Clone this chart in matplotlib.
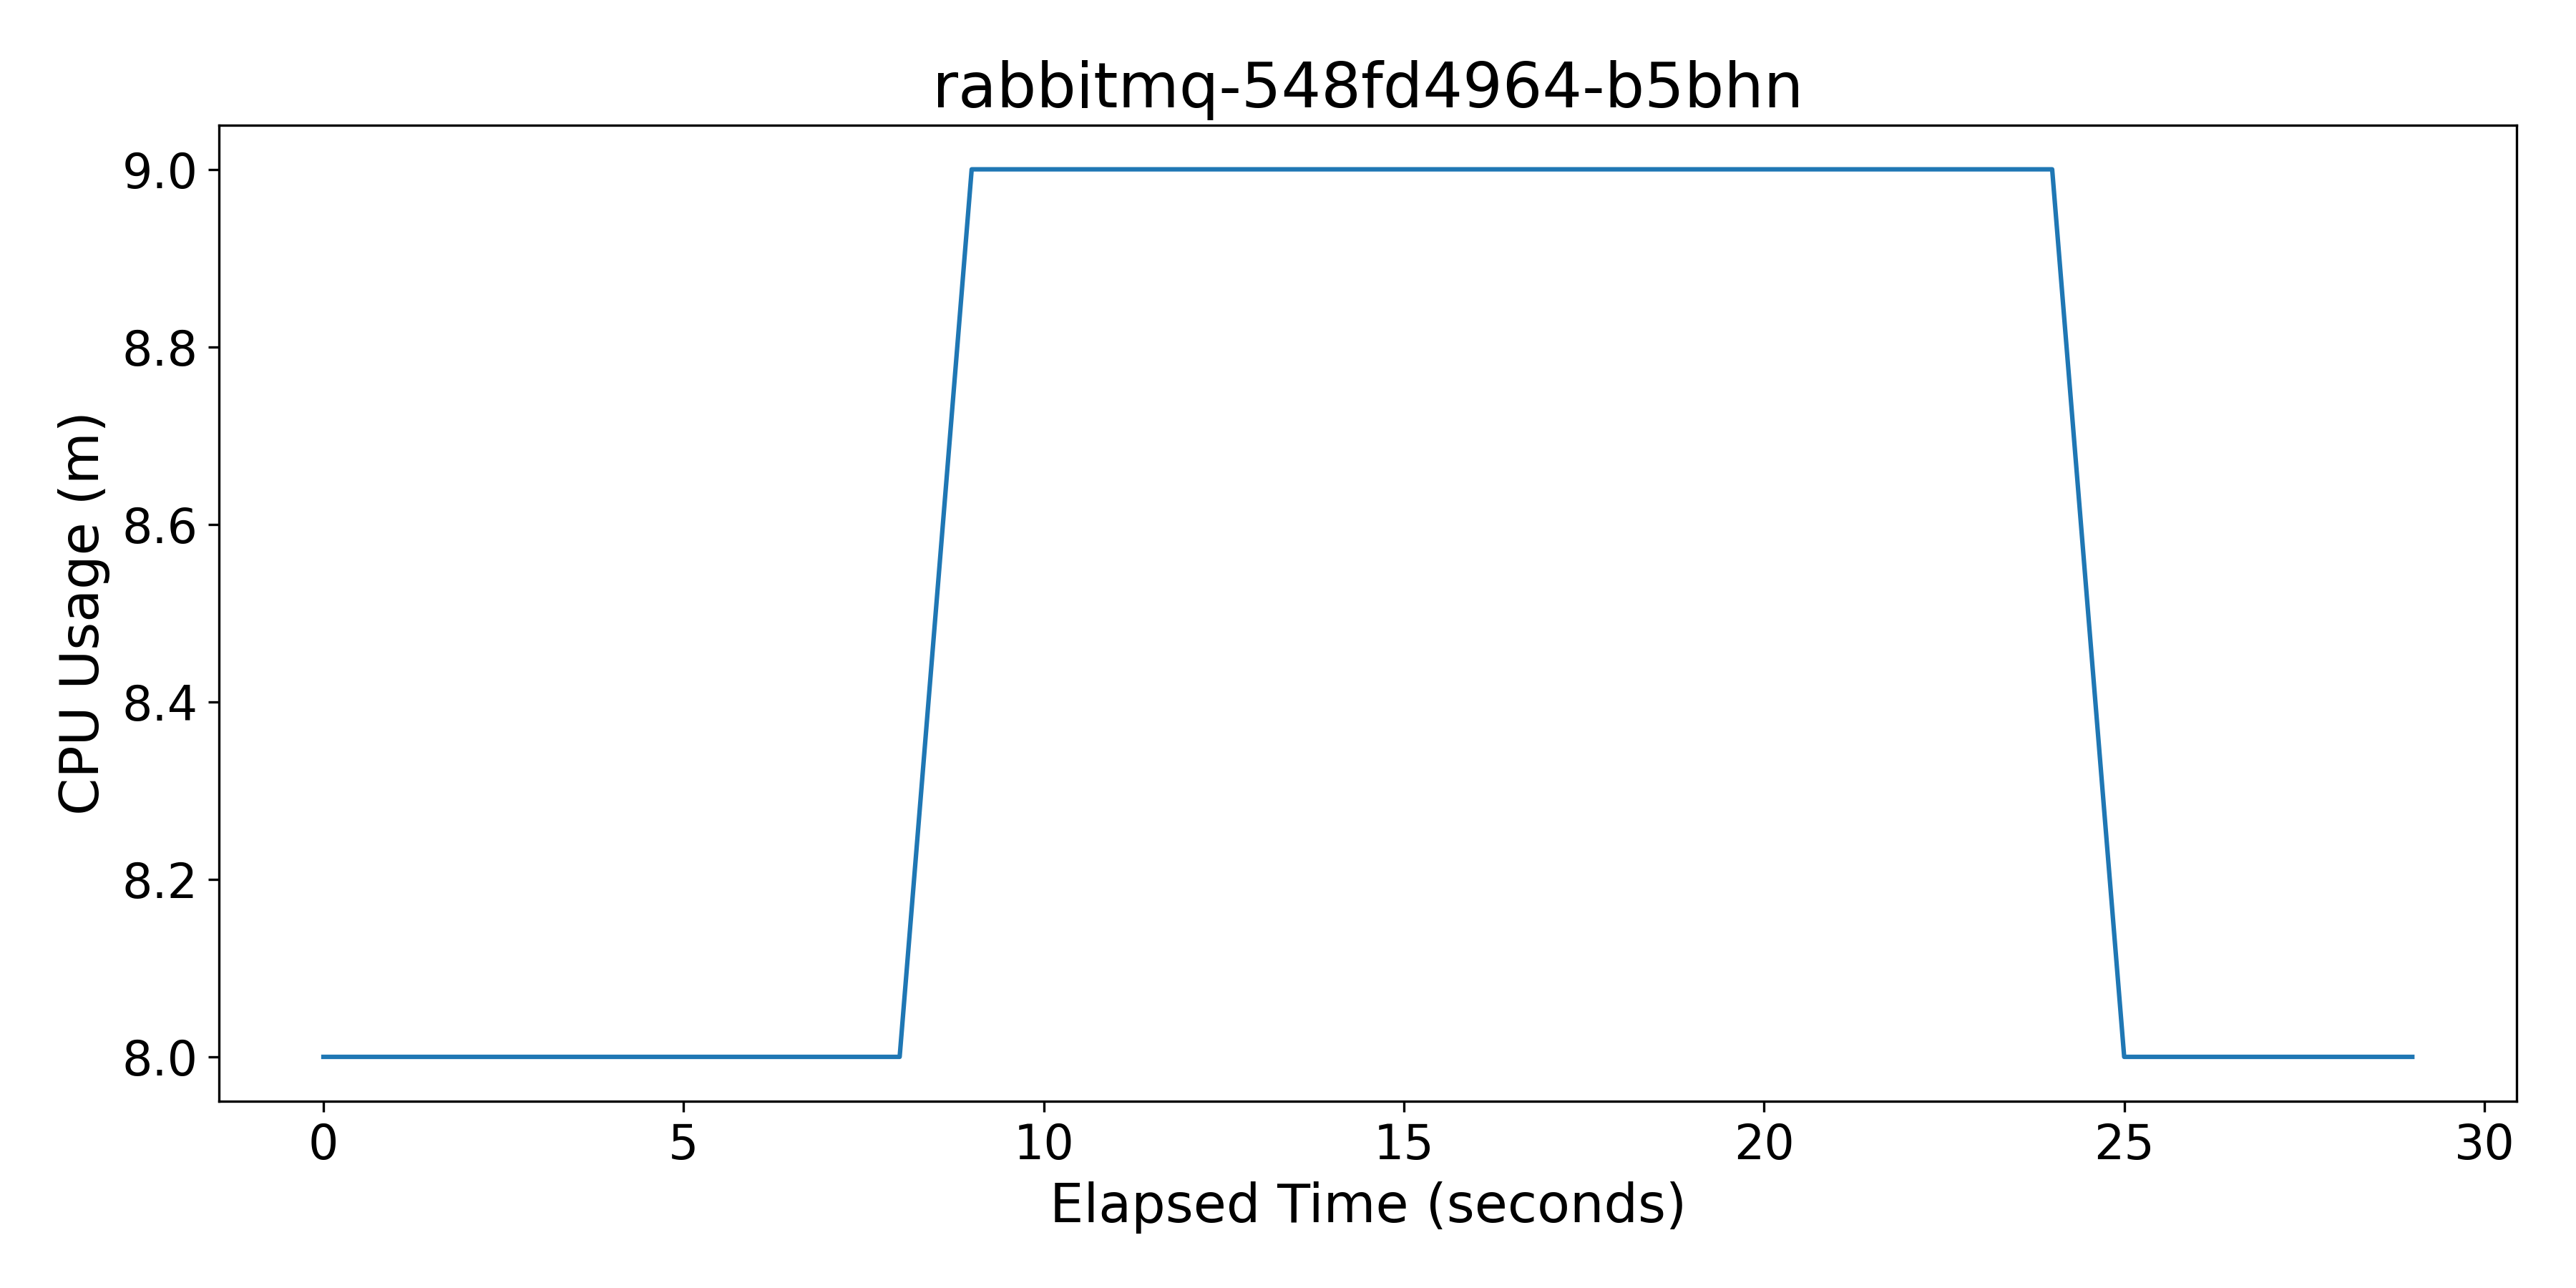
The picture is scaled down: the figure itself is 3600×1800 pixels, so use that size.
import matplotlib
matplotlib.use('Agg')
import matplotlib.pyplot as plt

elapsed = list(range(30))
cpu = [8]*9 + [9]*16 + [8]*5

fig, ax = plt.subplots(figsize=(12, 6), dpi=300)
ax.plot(elapsed, cpu, color="#1f77b4")
ax.set_title("rabbitmq-548fd4964-b5bhn", fontsize=21)
ax.set_xlabel("Elapsed Time (seconds)", fontsize=18)
ax.set_ylabel("CPU Usage (m)", fontsize=18)
ax.tick_params(labelsize=16)
fig.subplots_adjust(left=0.085, right=0.977, top=0.903, bottom=0.145)
fig.savefig("out.png")
